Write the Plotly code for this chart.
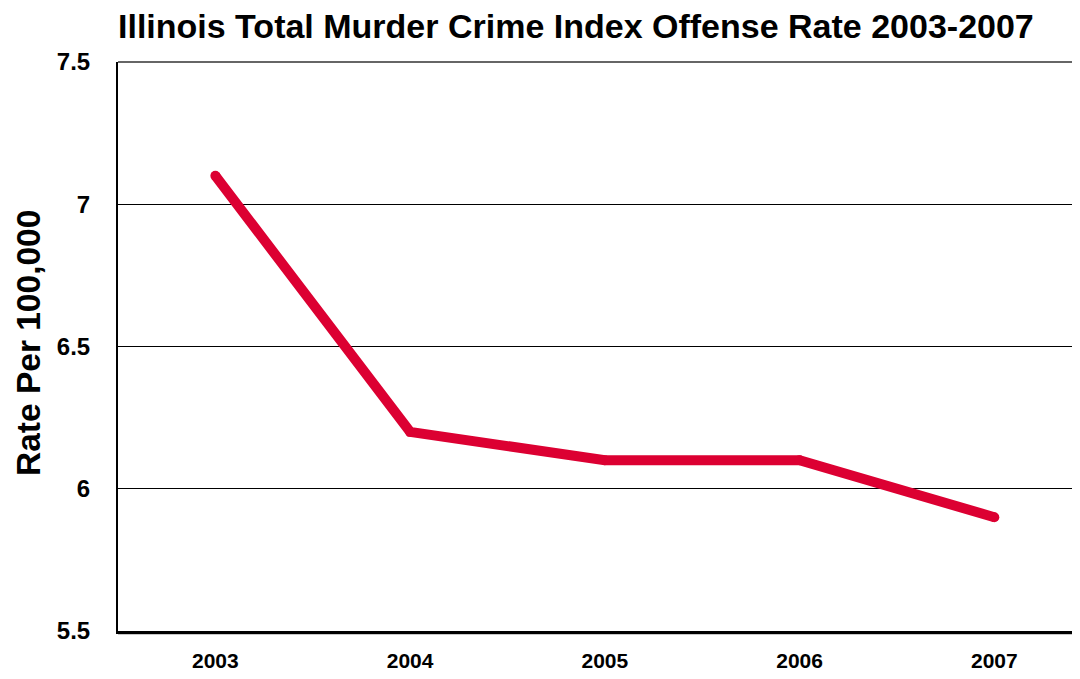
import plotly.graph_objects as go

years = ["2003", "2004", "2005", "2006", "2007"]
rates = [7.1, 6.2, 6.1, 6.1, 5.9]
y_ticks = [5.5, 6, 6.5, 7, 7.5]
y_tick_text = ["5.5", "6", "6.5", "7", "7.5"]

title_text = "Illinois Total Murder Crime Index Offense Rate 2003-2007"
y_title = "Rate Per 100,000"

line_color = "#DC0032"
font_family = "Liberation Sans, Arial, sans-serif"

# page body has an 8px margin, so the figure is shifted by 8px
W, H = 1072, 671
L, R, T, B = 110, 0, 54, 48

fig = go.Figure()
fig.add_trace(go.Scatter(
    x=years, y=rates, mode="lines+markers",
    line=dict(color=line_color, width=10),
    marker=dict(color=line_color, size=10),
    hoverinfo="x+y",
))

fig.update_layout(
    width=W, height=H,
    margin=dict(l=L, r=R, t=T, b=B, pad=0),
    paper_bgcolor="white", plot_bgcolor="white",
    showlegend=False,
    font=dict(family=font_family, color="black"),
    title=dict(
        text="<b>" + title_text + "</b>",
        font=dict(size=34, family=font_family, color="black"),
        xref="container", x=L / W, xanchor="left",
        yref="container", y=1 - 18 / H, yanchor="middle",
    ),
    xaxis=dict(
        type="category",
        range=[-0.5, 4.44],
        showgrid=False, zeroline=False,
        showline=True, linecolor="black", linewidth=3,
        ticks="", ticklabelstandoff=9,
        tickfont=dict(size=21, family=font_family, color="black", weight="bold"),
    ),
    yaxis=dict(
        range=[5.5, 7.5],
        tickvals=y_ticks, ticktext=y_tick_text,
        showgrid=True, gridcolor="black", gridwidth=1,
        zeroline=False,
        showline=True, linecolor="black", linewidth=2,
        ticks="", ticklabelstandoff=21,
        tickfont=dict(size=24, family=font_family, color="black", weight="bold"),
    ),
)

# top border of plot area
fig.add_shape(type="line", xref="paper", yref="paper", x0=0, x1=1, y0=1, y1=1,
              line=dict(color="#333333", width=1.5), layer="above")
# soft shadow under the bottom axis
fig.add_shape(type="line", xref="paper", yref="paper", x0=0, x1=1,
              ysizemode="pixel", yanchor=0, y0=-3, y1=-3,
              line=dict(color="#c8c8c8", width=2), layer="below")

fig.add_annotation(
    text="<b>" + y_title + "</b>", textangle=-90,
    xref="paper", yref="paper",
    x=(28 - 118) / (W - L - R), y=(679 - 48 - 343) / (H - T - B),
    xanchor="center", yanchor="middle", showarrow=False,
    font=dict(size=33.5, family=font_family, color="black"),
)

fig.write_html("out.html")
